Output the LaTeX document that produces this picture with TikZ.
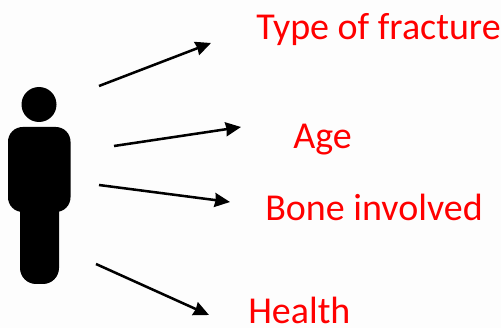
\documentclass[tikz,border=0pt]{standalone}
\usepackage{fontspec}
\setmainfont{Carlito}
\usetikzlibrary{arrows.meta}
\definecolor{lbl}{RGB}{255,0,0}
\definecolor{bgc}{RGB}{253,253,253}
\tikzset{lab/.style={text=lbl,font=\fontsize{28.5}{32}\selectfont,inner sep=0pt,anchor=base west},
arr/.style={line width=1.9pt,-{Stealth[length=11.5pt,width=10.5pt,inset=0.7pt]}}}
\begin{document}
\begin{tikzpicture}[x=0.75pt,y=-0.75pt]
\useasboundingbox (0,0) rectangle (501,328);
\fill[bgc] (0,0) rectangle (501,328);
\fill[black] (39,104.5) circle[radius=17.5];
\path[fill=black,rounded corners=11pt] (8,127) rectangle (70.5,212);
\path[fill=black,rounded corners=12pt] (20,190) rectangle (59,284);
\node[lab] (t1) at (256,40) {Type of fracture};
\node[lab] (t2) at (293,149) {Age};
\node[lab] (t3) at (265,221) {Bone involved};
\node[lab] (t4) at (248,324) {Health};
\coordinate (a1) at (99,86); \coordinate (b1) at (211,43);
\coordinate (a2) at (114,146); \coordinate (b2) at (241,127);
\coordinate (a3) at (99,185); \coordinate (b3) at (230,202);
\coordinate (a4) at (96,264); \coordinate (b4) at (209,315);
\draw[arr] (a1)--(b1);
\draw[arr] (a2)--(b2);
\draw[arr] (a3)--(b3);
\draw[arr] (a4)--(b4);
\end{tikzpicture}
\end{document}
